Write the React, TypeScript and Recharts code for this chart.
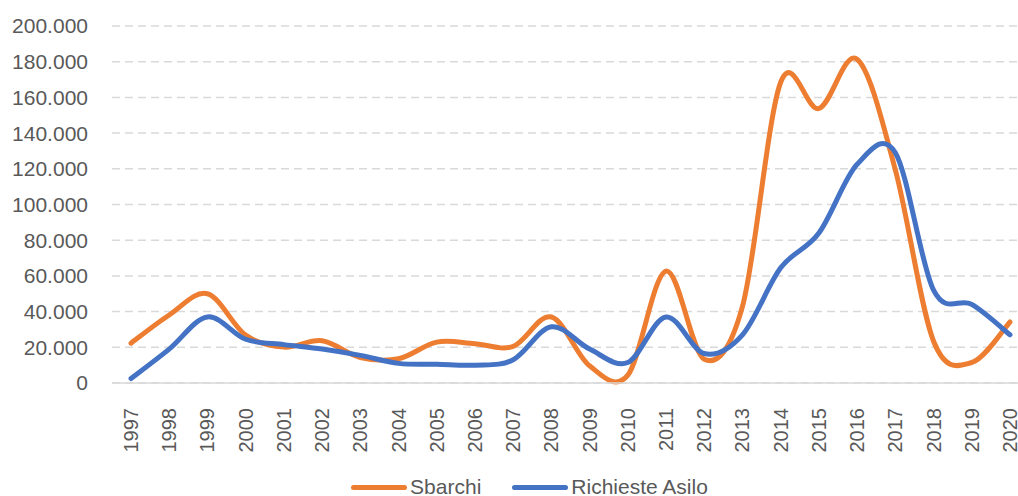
import { LineChart, Line, XAxis, YAxis, CartesianGrid, Legend } from "recharts";

const FONT = '"Liberation Sans", Arial, sans-serif';
const TEXT = "#595959";
const GRID = "#D9D9D9";

const YEARS = [
  "1997", "1998", "1999", "2000", "2001", "2002", "2003", "2004", "2005", "2006", "2007", "2008",
  "2009", "2010", "2011", "2012", "2013", "2014", "2015", "2016", "2017", "2018", "2019", "2020",
];
const SBARCHI = [
  22300, 38100, 50000, 26800, 20100, 23700, 14300, 13600, 22900, 22000, 20500, 37000,
  9600, 4400, 62700, 13300, 42900, 168500, 153800, 181400, 119400, 23400, 11500, 34200,
];
const RICHIESTE_ASILO = [
  2500, 19000, 37000, 24500, 21500, 19000, 15500, 11000, 10500, 10000, 13000, 31500,
  19000, 11500, 37000, 16500, 27000, 64500, 84000, 122500, 129000, 52000, 44000, 27000,
];
const Y_TICKS = [0, 20000, 40000, 60000, 80000, 100000, 120000, 140000, 160000, 180000, 200000];
const LEGEND_ORDER = ["sbarchi", "richieste"];

const data = YEARS.map((year, i) => ({ year, sbarchi: SBARCHI[i], richieste: RICHIESTE_ASILO[i] }));

// Excel-like smoothed line (uniform Catmull-Rom through every point)
const excelSmooth = (ctx: any) => {
  let pts: [number, number][] = [];
  return {
    areaStart() {},
    areaEnd() {},
    lineStart() {
      pts = [];
    },
    point(x: number, y: number) {
      pts.push([+x, +y]);
    },
    lineEnd() {
      if (!pts.length) return;
      ctx.moveTo(pts[0][0], pts[0][1]);
      for (let i = 0; i < pts.length - 1; i++) {
        const p0 = pts[i - 1] || pts[i];
        const p1 = pts[i];
        const p2 = pts[i + 1];
        const p3 = pts[i + 2] || p2;
        ctx.bezierCurveTo(
          p1[0] + (p2[0] - p0[0]) / 6,
          p1[1] + (p2[1] - p0[1]) / 6,
          p2[0] - (p3[0] - p1[0]) / 6,
          p2[1] - (p3[1] - p1[1]) / 6,
          p2[0],
          p2[1],
        );
      }
    },
  };
};

const fmt = (v: number) => String(v).replace(/\B(?=(\d{3})+(?!\d))/g, ".");

const YearTick = ({ x, y, payload }: any) => {
  const ty = y + 17;
  return (
    <text
      x={x}
      y={ty}
      transform={`rotate(-90 ${x} ${ty})`}
      textAnchor="end"
      dominantBaseline="central"
      fill={TEXT}
      fontSize={20}
      fontFamily={FONT}
    >
      {payload.value}
    </text>
  );
};

const renderLegend = ({ payload }: any) => {
  const items = [...(payload || [])].sort(
    (a: any, b: any) => LEGEND_ORDER.indexOf(a.dataKey) - LEGEND_ORDER.indexOf(b.dataKey),
  );
  return (
    <div
      style={{
        display: "flex",
        justifyContent: "center",
        alignItems: "center",
        height: 36,
        paddingLeft: 30,
        fontFamily: FONT,
        fontSize: 21,
        lineHeight: "24px",
        color: TEXT,
      }}
    >
      {items.map((p: any, i: number) => (
        <div key={p.value} style={{ display: "flex", alignItems: "center", marginRight: i === 0 ? 31 : 0 }}>
          <span style={{ display: "inline-block", width: 56, height: 5, borderRadius: 3, background: p.color, marginRight: 3 }} />
          <span>{p.value}</span>
        </div>
      ))}
    </div>
  );
};

export default function App() {
  return (
    <div style={{ position: "absolute", left: 0, top: 0, width: 1018, height: 496, overflow: "hidden", background: "#fff" }}>
      <LineChart width={1040} height={505} data={data} margin={{ top: 26, right: 11, left: 0, bottom: 0 }}>
        <CartesianGrid vertical={false} stroke={GRID} strokeWidth={1.5} strokeDasharray="8 5" />
        <XAxis
          dataKey="year"
          interval={0}
          height={86}
          padding={{ left: 19, right: 19 }}
          tickLine={false}
          axisLine={{ stroke: GRID, strokeWidth: 1.5 }}
          tick={<YearTick />}
        />
        <YAxis
          width={112}
          domain={[0, 200000]}
          ticks={Y_TICKS}
          tickFormatter={fmt}
          axisLine={false}
          tickLine={false}
          tickSize={0}
          tickMargin={24}
          tick={{ fill: TEXT, fontSize: 21, fontFamily: FONT }}
        />
        <Legend verticalAlign="bottom" height={36} content={renderLegend} />
        <Line
          dataKey="sbarchi"
          name="Sbarchi"
          type={excelSmooth as any}
          stroke="#ED7D31"
          strokeWidth={5}
          strokeLinecap="round"
          dot={false}
          activeDot={false}
          isAnimationActive={false}
        />
        <Line
          dataKey="richieste"
          name="Richieste Asilo"
          type={excelSmooth as any}
          stroke="#4472C4"
          strokeWidth={5}
          strokeLinecap="round"
          dot={false}
          activeDot={false}
          isAnimationActive={false}
        />
      </LineChart>
    </div>
  );
}
